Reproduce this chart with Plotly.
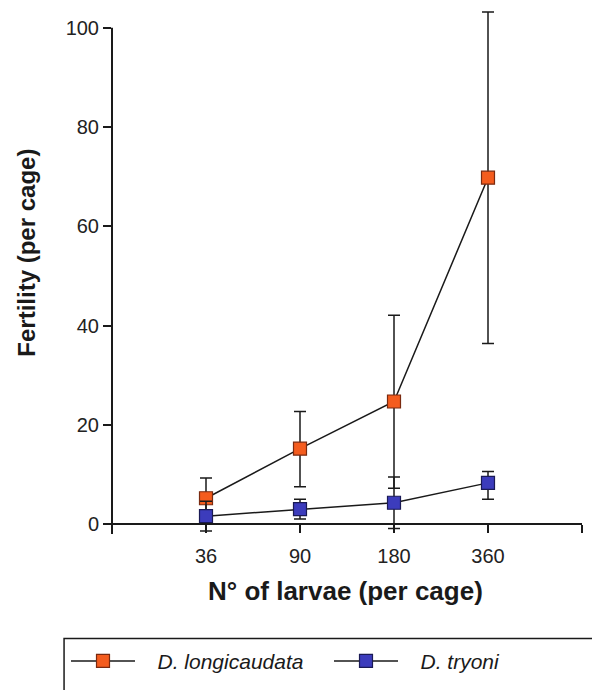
import plotly.graph_objects as go

# ---- data ----
larvae = ["36", "90", "180", "360"]
long_mean = [5.2, 15.2, 24.7, 69.8]
long_err_up = [4.1, 7.5, 17.4, 33.4]
long_err_dn = [4.1, 7.7, 17.5, 33.4]
tryo_mean = [1.6, 3.0, 4.3, 8.3]
tryo_err_up = [3.0, 2.0, 5.2, 2.3]
tryo_err_dn = [3.0, 2.0, 5.2, 3.3]
series_names = ["D. longicaudata", "D. tryoni"]
y_ticks = [0, 20, 40, 60, 80, 100]

xpos = list(range(1, len(larvae) + 1))

FONT = "Liberation Sans, Arial, sans-serif"
ORANGE = "#f45c1e"
ORANGE_EDGE = "#7a2a10"
BLUE = "#3c3cbc"
BLUE_EDGE = "#1a1a55"
INK = "#1a1a1a"

Y_LO, Y_HI = -2, 104

fig = go.Figure()

for name, mean, up, dn, fill, edge in [
    (series_names[0], long_mean, long_err_up, long_err_dn, ORANGE, ORANGE_EDGE),
    (series_names[1], tryo_mean, tryo_err_up, tryo_err_dn, BLUE, BLUE_EDGE),
]:
    fig.add_trace(go.Scatter(
        x=xpos, y=mean, name="\u00a0\u00a0\u00a0" + name,
        mode="lines+markers",
        line=dict(color=INK, width=1.5),
        marker=dict(symbol="square", size=13, color=fill,
                    line=dict(color=edge, width=1.2)),
        error_y=dict(type="data", symmetric=False, array=up, arrayminus=dn,
                     color=INK, thickness=1.5, width=6),
        cliponaxis=False,
    ))

fig.update_layout(
    width=592, height=690,
    margin=dict(l=112, r=10, t=8, b=149),
    plot_bgcolor="white", paper_bgcolor="white",
    font=dict(family=FONT, color=INK, size=20),
    showlegend=True,
    legend=dict(
        orientation="h", x=-0.0915, xanchor="left", y=-0.2420, yanchor="middle",
        font=dict(family=FONT, size=21, style="italic", color=INK),
        itemwidth=64, entrywidth=184, bgcolor="rgba(0,0,0,0)",
        borderwidth=0,
    ),
    xaxis=dict(
        range=[0, 5], tickmode="array",
        tickvals=[0] + xpos + [5], ticktext=[""] + larvae + [""],
        anchor="free", position=(0 - Y_LO) / (Y_HI - Y_LO),
        showline=True, linecolor=INK, linewidth=2,
        ticks="outside", ticklen=8, tickwidth=2, tickcolor=INK,
        showgrid=False, zeroline=False, ticklabelstandoff=6,
        tickfont=dict(size=20, color="#222"),
    ),
    yaxis=dict(
        range=[Y_LO, Y_HI], tickmode="array", tickvals=y_ticks,
        showline=False,
        ticks="outside", ticklen=8, tickwidth=2, tickcolor=INK,
        showgrid=False, zeroline=False,
        tickfont=dict(size=20, color="#222"),
    ),
    annotations=[
        dict(text="<b>Fertility (per cage)</b>", xref="paper", yref="paper",
             x=-0.181, y=0.5347, xanchor="center", yanchor="middle",
             textangle=-90, showarrow=False,
             font=dict(family=FONT, size=24, color=INK)),
        dict(text="<b>N° of larvae (per cage)</b>", xref="paper", yref="paper",
             x=0.497, y=-0.108, xanchor="center", yanchor="middle",
             showarrow=False, font=dict(family=FONT, size=26, color=INK)),
    ],
    shapes=[
        # y axis line, from just below 0 up to the top tick
        dict(type="line", xref="paper", yref="y", x0=0, x1=0,
             y0=Y_LO, y1=y_ticks[-1], line=dict(color=INK, width=2)),
        # legend frame (runs off the right/bottom edge as in the original)
        dict(type="rect", xref="paper", yref="paper",
             x0=-0.102, x1=1.2, y0=-0.5, y1=-0.1989,
             line=dict(color=INK, width=1.5), fillcolor="rgba(0,0,0,0)"),
    ],
)

fig.write_html("out.html")
